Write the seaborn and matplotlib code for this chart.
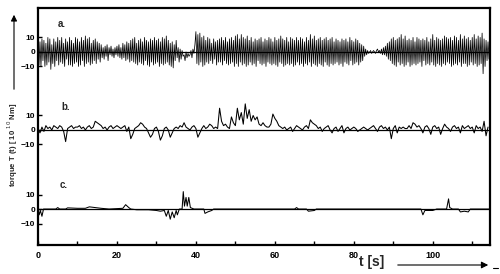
import numpy as np
import pandas as pd
import matplotlib
matplotlib.use("Agg")
import matplotlib.pyplot as plt
import seaborn as sns

# ---------------- data ----------------
# series a: torque sampled every 0.25 s
dt_a = 0.25
a_vals = [
    10, -9, 7, -10, 9, -6, 8, -10,
    6, -9, 10, -7, 9, -12, 5, -8,
    9, -10, 7, -6, 10, -9, 8, -7,
    10, -8, 6, -10, 9, -5, 7, -9,
    10, -9, 8, -10, 6, -8, 10, -7,
    9, -10, 7, -9, 10, -6, 8, -10,
    11, -8, 9, -7, 10, -9, 6, -8,
    8, -6, 9, -8, 7, -5, 6, -7,
    5, -4, 3, -5, 4, -3, 5, -6,
    3, -2, 4, -3, 2, -4, 3, -2,
    4, -3, 5, -4, 3, -5, 6, -4,
    5, -6, 7, -5, 6, -7, 8, -6,
    9, -7, 10, -8, 6, -9, 8, -7,
    9, -8, 7, -9, 10, -6, 8, -9,
    7, -10, 9, -7, 8, -9, 10, -8,
    8, -7, 9, -10, 7, -8, 10, -9,
    9, -8, 11, -7, 8, -9, 6, -10,
    7, -11, 5, -6, 8, -4, 3, -7,
    2, -5, 1, -3, -2, -6, 0, -4,
    -1, -3, -2, 1, -4, 2, -1, 5,
    14, -8, 12, -9, 13, -7, 10, -10,
    11, -9, 8, -7, 10, -8, 9, -6,
    6, -8, 9, -5, 7, -9, 8, -7,
    9, -7, 10, -9, 8, -6, 10, -8,
    7, -9, 9, -8, 10, -7, 8, -10,
    11, -8, 12, -10, 9, -7, 12, -9,
    10, -8, 9, -10, 11, -9, 8, -7,
    10, -9, 7, -8, 9, -10, 8, -6,
    9, -8, 10, -9, 7, -8, 9, -10,
    8, -7, 10, -8, 9, -9, 7, -8,
    10, -9, 8, -10, 9, -7, 11, -8,
    9, -10, 8, -9, 10, -8, 7, -9,
    10, -8, 9, -10, 8, -9, 10, -7,
    8, -9, 10, -8, 9, -10, 7, -8,
    10, -9, 8, -7, 12, -10, 9, -8,
    11, -9, 8, -10, 9, -8, 10, -9,
    8, -10, 9, -7, 10, -9, 8, -10,
    9, -8, 10, -9, 7, -8, 9, -7,
    8, -9, 7, -8, 9, -10, 8, -7,
    9, -8, 7, -9, 10, -6, 8, -9,
    7, -8, 9, -7, 8, -9, 6, -7,
    5, -6, 4, -3, 2, -2, 1, -1,
    0, 1, -1, 0, 1, 0, -1, 1,
    2, 0, 1, -1, 2, -2, 3, -2,
    4, -3, 6, -5, 7, -6, 9, -8,
    10, -9, 8, -10, 9, -7, 10, -9,
    12, -8, 9, -10, 11, -9, 8, -7,
    9, -10, 8, -9, 10, -8, 7, -9,
    10, -8, 9, -7, 8, -10, 9, -6,
    8, -9, 10, -8, 7, -9, 9, -7,
    12, -9, 8, -10, 10, -8, 9, -9,
    8, -10, 9, -8, 11, -9, 10, -7,
    9, -8, 10, -10, 8, -9, 11, -8,
    10, -9, 8, -7, 12, -10, 9, -8,
    11, -8, 9, -10, 10, -9, 8, -7,
    10, -9, 12, -8, 9, -10, 11, -9,
    10, -8, 13, -15, 9, -10, 8, -6,
    7, -5,
]

# series b: torque sampled every 0.5 s
dt_b = 0.5
b_vals = [
    1, -2, 2, -1, 3, 1, 2, 0, 3, 2,
    1, 3, 2, -1, -8, 1, 2, 3, 1, 2,
    2, 3, 1, 2, 0, 2, 3, 1, 2, 6,
    5, 4, 3, 1, 2, 0, 2, 3, 1, 2,
    3, 2, 1, 2, 3, -1, 2, -6, -3, 1,
    2, 3, 5, 4, 2, 1, -2, -5, -3, 1,
    2, -1, -7, -4, 1, 2, 0, -5, -2, 1,
    2, 1, 3, 2, 5, 2, 1, 0, 2, 3,
    1, -5, -2, 1, 3, 1, 2, 4, 3, 1,
    2, 1, 15, 6, 3, 4, 2, 1, 9, 5,
    3, 15, 7, 12, 4, 18, 8, 14, 6, 10,
    7, 9, 4, 3, 5, 3, 2, 2, 4, 11,
    8, 6, 3, 2, 1, 2, 0, 1, 2, -1,
    1, 3, 2, 1, 0, 2, 3, 1, 7, 5,
    4, 3, 1, 2, -1, 1, 2, 3, 0, -2,
    1, 2, -1, 1, 3, -2, 1, 2, 0, 1,
    2, 1, -1, 0, 1, 2, 1, 0, 1, 2,
    3, 1, -1, 2, 3, 1, 2, 0, 2, -6,
    1, 3, -2, 2, 1, 2, 1, 1, 3, 1,
    5, 4, 2, 3, 1, -2, 2, 3, 1, -3,
    2, 3, 1, 2, -3, 1, 4, 2, 1, -1,
    2, 3, 1, 2, -2, 3, 1, 2, 3, 1,
    2, -2, 3, 1, 2, -1, 6, -4, 2,
]

# series c: breakpoints (time, torque)
c_t = [0, 0.3, 0.6, 1.0, 1.4, 4.5, 5, 5.5, 7, 7.5, 10, 12, 13, 14.5, 16, 18,
       21.5, 22.2, 23, 23.5, 25, 28, 30, 31, 32, 32.5, 33, 33.5, 34, 34.5, 35,
       35.3, 35.8, 36.5, 36.8, 37.1, 37.5, 37.8, 38.2, 38.6, 39.5, 42, 42.3,
       43, 44, 44.5, 47, 65, 65.5, 66, 68, 68.5, 70, 70.5, 97, 97.5, 98, 100,
       101, 103.5, 104, 104.3, 105, 106.5, 107, 108, 109, 109.5, 114.5]
c_v = [0, -4, -1, -5, 0, 0, 1, 0, 0, 0.8, 0.5, 0.5, 1.5, 1, 0.5, 0,
       0.5, 3, 1, 0, -0.5, -0.5, -1, -1.5, -1, -5, -1, -7, -2, -6, -1,
       -4, 0, 0, 12, 2, 8, 2, 8, 1, 0, 0, -3,
       -2, -1, 0, 0, 0, 1, 0, 0, -1.5, -1, 0, 0, -4, -1, -1,
       0, 0, 7, 1, 0, 0, -2, -1.5, -2, 0, 0]

panel_labels = ["a.", "b.", "c."]
x_major = [0, 20, 40, 60, 80, 100]
x_minor = [10, 30, 50, 70, 90, 110]
y_tick_vals = [10, 0, -10]

# ---------------- layout constants ----------------
offsets = [0.0, -53.8, -108.3]
XMAX = 114.5

sns.set_style("white")
plt.rcParams["font.family"] = ["Liberation Sans", "DejaVu Sans"]

fig = plt.figure(figsize=(5.0, 2.74), dpi=100)
ax = fig.add_axes([38 / 500, 1 - 245 / 274, (490 - 38) / 500, (245 - 8) / 274])

df_a = pd.DataFrame({"t": np.arange(len(a_vals)) * dt_a, "y": np.array(a_vals, float) + offsets[0]})
df_b = pd.DataFrame({"t": np.arange(len(b_vals)) * dt_b, "y": np.array(b_vals, float) + offsets[1]})
df_c = pd.DataFrame({"t": c_t, "y": np.array(c_v, float) + offsets[2]})

for d, lw in ((df_a, 0.55), (df_b, 0.75), (df_c, 0.75)):
    sns.lineplot(data=d, x="t", y="y", ax=ax, color="black", lw=lw,
                 estimator=None, sort=False, legend=False)

for off in offsets:
    ax.axhline(off, color="black", lw=0.9, zorder=1)

ax.set_xlim(0, XMAX)
ax.set_ylim(-133.1, 30.3)

ax.set_xticks(x_major)
ax.set_xticklabels([str(v) for v in x_major], fontsize=6.5, fontweight="bold")
ax.set_xticks(x_minor, minor=True)

yt, yl = [], []
for off in offsets:
    for v in y_tick_vals:
        yt.append(off + v)
        yl.append(str(v) if v >= 0 else "\u221210")
ax.set_yticks(yt)
ax.set_yticklabels(yl, fontsize=6, fontweight="bold")

ax.tick_params(axis="both", which="both", direction="in", length=3, width=1.0,
               colors="black", bottom=True, left=True, top=False, right=False)
ax.tick_params(axis="x", which="major", pad=4)
ax.tick_params(axis="y", which="major", pad=2)

for s in ax.spines.values():
    s.set_linewidth(1.6)
    s.set_color("black")
    s.set_visible(True)

ax.set_xlabel("")
ax.set_ylabel("")

label_pos = [(5.0, 19), (6.0, offsets[1] + 16), (5.5, offsets[2] + 16.5)]
for lab, (x, y) in zip(panel_labels, label_pos):
    ax.text(x, y, lab, fontsize=7, fontweight="bold", ha="left", va="center")

# y label with arrow
fig.text(13 / 500, 1 - 145 / 274, r"torque T (t) [ 10 $^{10}$ Nm]", rotation=90,
         fontsize=5.6, fontweight="bold", ha="center", va="center")
ax.annotate("", xy=(14 / 500, 1 - 12 / 274), xytext=(14 / 500, 1 - 92 / 274),
            xycoords="figure fraction", textcoords="figure fraction",
            arrowprops=dict(arrowstyle="-|>", color="black", lw=0.8, mutation_scale=9))

# x label with arrow
fig.text(372 / 500, 1 - 262 / 274, "t [s]", fontsize=10, fontweight="bold",
         ha="center", va="center")
ax.annotate("", xy=(491 / 500, 1 - 265 / 274), xytext=(395 / 500, 1 - 265 / 274),
            xycoords="figure fraction", textcoords="figure fraction",
            arrowprops=dict(arrowstyle="-|>", color="black", lw=0.8, mutation_scale=10))
fig.add_artist(plt.Line2D([493 / 500, 498 / 500], [1 - 268 / 274, 1 - 268 / 274],
                          color="black", lw=0.8))

fig.savefig("out.png", dpi=100, facecolor="white")
